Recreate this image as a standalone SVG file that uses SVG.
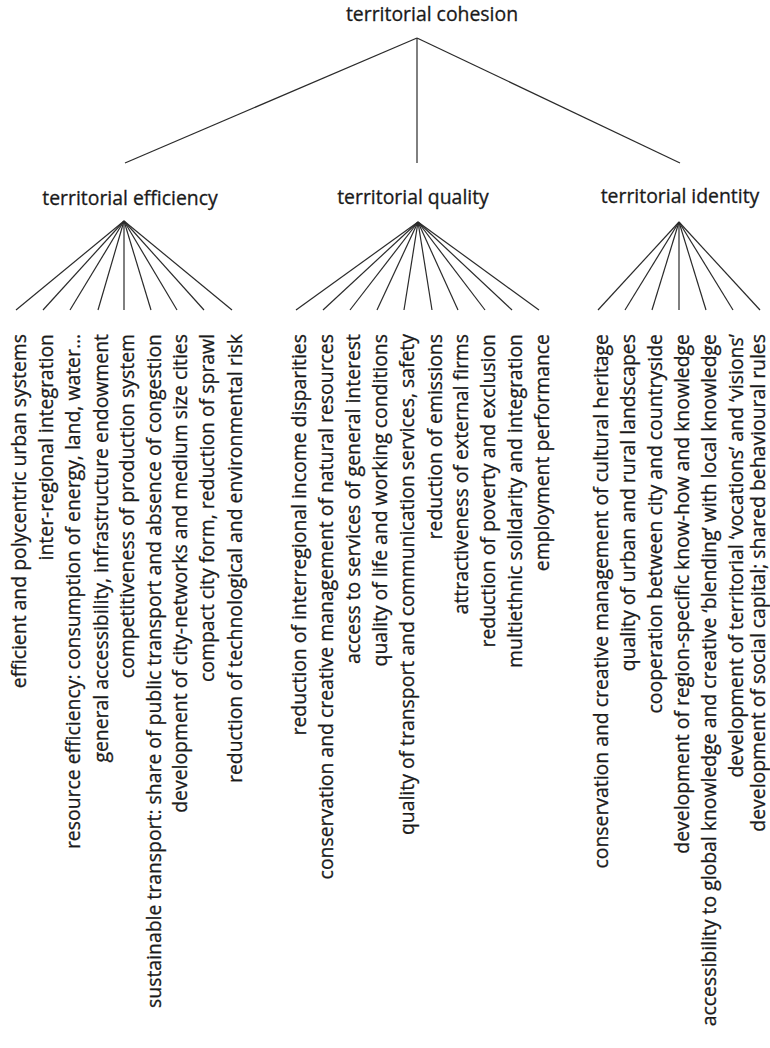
<svg xmlns="http://www.w3.org/2000/svg" width="770" height="1048" viewBox="0 0 770 1048">
<style>
text{font-family:"Open Sans","Liberation Sans",sans-serif;font-size:19.4px;fill:#1a1a1a;stroke:#1a1a1a;stroke-width:0.3}
.h{text-anchor:middle}
.v{text-anchor:end}
#connectors line{stroke:#2a2a2a;stroke-width:1.2}
</style>
<rect width="770" height="1048" fill="#fff"/>
<g id="connectors">
<line x1="417" y1="38" x2="125" y2="163"/>
<line x1="417" y1="38" x2="417" y2="163"/>
<line x1="417" y1="38" x2="680" y2="163"/>
<line x1="124" y1="221" x2="16" y2="310"/>
<line x1="124" y1="221" x2="43" y2="310"/>
<line x1="124" y1="221" x2="70" y2="310"/>
<line x1="124" y1="221" x2="98" y2="310"/>
<line x1="124" y1="221" x2="124" y2="310"/>
<line x1="124" y1="221" x2="151" y2="310"/>
<line x1="124" y1="221" x2="177" y2="310"/>
<line x1="124" y1="221" x2="204" y2="310"/>
<line x1="124" y1="221" x2="232" y2="310"/>
<line x1="418" y1="222" x2="296" y2="310"/>
<line x1="418" y1="222" x2="323" y2="310"/>
<line x1="418" y1="222" x2="350" y2="310"/>
<line x1="418" y1="222" x2="377" y2="310"/>
<line x1="418" y1="222" x2="404" y2="310"/>
<line x1="418" y1="222" x2="432" y2="310"/>
<line x1="418" y1="222" x2="458" y2="310"/>
<line x1="418" y1="222" x2="485" y2="310"/>
<line x1="418" y1="222" x2="512" y2="310"/>
<line x1="418" y1="222" x2="539" y2="310"/>
<line x1="679" y1="222" x2="598" y2="310"/>
<line x1="679" y1="222" x2="625" y2="310"/>
<line x1="679" y1="222" x2="652" y2="310"/>
<line x1="679" y1="222" x2="679" y2="310"/>
<line x1="679" y1="222" x2="706" y2="310"/>
<line x1="679" y1="222" x2="733" y2="310"/>
<line x1="679" y1="222" x2="760" y2="310"/>
</g>
<g id="cohesion"><text class="h" x="432" y="21">territorial cohesion</text></g>
<g id="efficiency"><text class="h" x="130" y="205">territorial efficiency</text></g>
<g id="quality"><text class="h" x="413" y="204">territorial quality</text></g>
<g id="identity"><text class="h" x="680" y="203">territorial identity</text></g>
<g id="efficiency-items">
<text class="v" transform="translate(25.5,334) rotate(-90)">efficient and polycentric urban systems</text>
<text class="v" transform="translate(52.5,334) rotate(-90)">inter-regional integration</text>
<text class="v" transform="translate(79.5,334) rotate(-90)">resource efficiency: consumption of energy, land, water…</text>
<text class="v" transform="translate(107.5,334) rotate(-90)">general accessibility, infrastructure endowment</text>
<text class="v" transform="translate(133.5,334) rotate(-90)">competitiveness of production system</text>
<text class="v" transform="translate(160.5,334) rotate(-90)">sustainable transport: share of public transport and absence of congestion</text>
<text class="v" transform="translate(186.5,334) rotate(-90)">development of city-networks and medium size cities</text>
<text class="v" transform="translate(213.5,334) rotate(-90)">compact city form, reduction of sprawl</text>
<text class="v" transform="translate(241.5,334) rotate(-90)">reduction of technological and environmental risk</text>
</g>
<g id="quality-items">
<text class="v" transform="translate(305.5,334) rotate(-90)">reduction of interregional income disparities</text>
<text class="v" transform="translate(332.5,334) rotate(-90)">conservation and creative management of natural resources</text>
<text class="v" transform="translate(359.5,334) rotate(-90)">access to services of general interest</text>
<text class="v" transform="translate(386.5,334) rotate(-90)">quality of life and working conditions</text>
<text class="v" transform="translate(413.5,334) rotate(-90)">quality of transport and communication services, safety</text>
<text class="v" transform="translate(441.5,334) rotate(-90)">reduction of emissions</text>
<text class="v" transform="translate(467.5,334) rotate(-90)">attractiveness of external firms</text>
<text class="v" transform="translate(494.5,334) rotate(-90)">reduction of poverty and exclusion</text>
<text class="v" transform="translate(521.5,334) rotate(-90)">multiethnic solidarity and integration</text>
<text class="v" transform="translate(548.5,334) rotate(-90)">employment performance</text>
</g>
<g id="identity-items">
<text class="v" transform="translate(607.5,334) rotate(-90)">conservation and creative management of cultural heritage</text>
<text class="v" transform="translate(634.5,334) rotate(-90)">quality of urban and rural landscapes</text>
<text class="v" transform="translate(661.5,334) rotate(-90)">cooperation between city and countryside</text>
<text class="v" transform="translate(688.5,334) rotate(-90)">development of region-specific know-how and knowledge</text>
<text class="v" transform="translate(715.5,334) rotate(-90)">accessibility to global knowledge and creative ‘blending’ with local knowledge</text>
<text class="v" transform="translate(742.5,334) rotate(-90)">development of territorial ‘vocations’ and ‘visions’</text>
<text class="v" transform="translate(765,334) rotate(-90)">development of social capital; shared behavioural rules</text>
</g>
</svg>
